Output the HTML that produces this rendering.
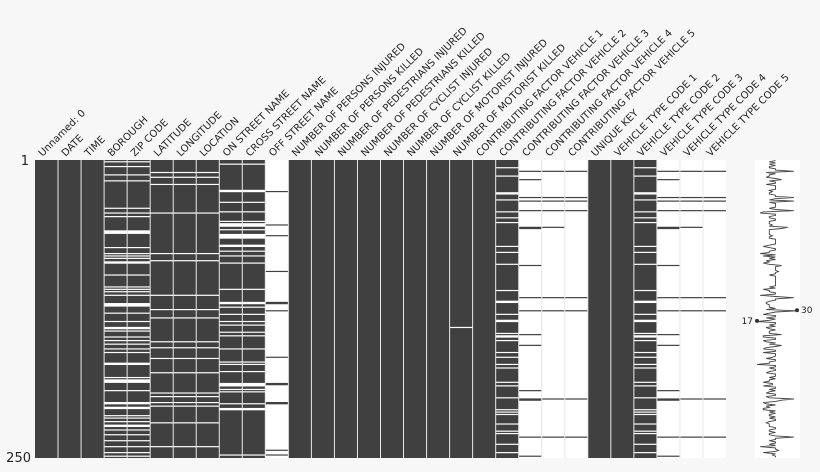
<!DOCTYPE html>
<html><head><meta charset="utf-8"><style>
html,body{margin:0;padding:0;background:#f7f7f7;}
svg{display:block;font-family:"DejaVu Sans","Liberation Sans",sans-serif;}
</style></head><body>
<svg id="s" width="820" height="472" viewBox="0 0 820 472" xmlns="http://www.w3.org/2000/svg">
<rect x="0" y="0" width="820" height="472" fill="#f7f7f7"/>
<rect x="35" y="160" width="691" height="298" fill="#ffffff"/>
<rect x="755" y="160" width="45" height="298" fill="#ffffff"/>
<g id="m"></g>
<g id="lab" font-size="10" fill="#222"></g>
<text x="29" y="165" font-size="13" text-anchor="end" fill="#222">1</text>
<text x="31" y="462" font-size="13" text-anchor="end" fill="#222">250</text>
<g id="sp"></g>
</svg>
<script>
var names=["Unnamed: 0","DATE","TIME","BOROUGH","ZIP CODE","LATITUDE","LONGITUDE","LOCATION","ON STREET NAME","CROSS STREET NAME","OFF STREET NAME","NUMBER OF PERSONS INJURED","NUMBER OF PERSONS KILLED","NUMBER OF PEDESTRIANS INJURED","NUMBER OF PEDESTRIANS KILLED","NUMBER OF CYCLIST INJURED","NUMBER OF CYCLIST KILLED","NUMBER OF MOTORIST INJURED","NUMBER OF MOTORIST KILLED","CONTRIBUTING FACTOR VEHICLE 1","CONTRIBUTING FACTOR VEHICLE 2","CONTRIBUTING FACTOR VEHICLE 3","CONTRIBUTING FACTOR VEHICLE 4","CONTRIBUTING FACTOR VEHICLE 5","UNIQUE KEY","VEHICLE TYPE CODE 1","VEHICLE TYPE CODE 2","VEHICLE TYPE CODE 3","VEHICLE TYPE CODE 4","VEHICLE TYPE CODE 5"];
var seed=12345;function r(){seed=(seed*1103515245+12345)%2147483648;return seed/2147483648;}
var N=250,C=30,x0=35,cw=691/30,y0=160,rh=298/N;
var present=[];for(var i=0;i<N;i++){present.push(new Array(C).fill(true));}
for(var i=0;i<N;i++){
 var p=present[i];
 var bz=r()<0.22; p[3]=p[4]=!bz;
 var ll=r()<0.07; p[5]=p[6]=p[7]=!ll;
 var oc=r()<0.14; p[8]=p[9]=!oc;
 p[10]=r()<0.02 || (oc && r()<0.25);
 if(i==140)p[18]=false;
 var v2=r()<0.85; p[20]=p[26]=v2;
 var v3=v2&&r()<0.1; p[21]=p[27]=v3;
 var v4=v3&&r()<0.5; p[22]=p[28]=v4;
 p[23]=p[29]=v4&&r()<0.6;
}
var m=document.getElementById("m"),h="";
for(var c=0;c<C;c++){
 var x=x0+c*cw,run=-1;
 for(var i=0;i<=N;i++){
  var on=i<N&&present[i][c];
  if(on&&run<0)run=i;
  if(!on&&run>=0){h+='<rect x="'+x.toFixed(2)+'" y="'+(y0+run*rh).toFixed(2)+'" width="'+cw.toFixed(2)+'" height="'+((i-run)*rh).toFixed(2)+'" fill="#404040"/>';run=-1;}
 }
}
for(var c=1;c<C;c++){var x=x0+c*cw;h+='<line x1="'+x.toFixed(2)+'" y1="160" x2="'+x.toFixed(2)+'" y2="458" stroke="#e8e8e8" stroke-width="1"/>';}
m.innerHTML=h;
var lh="";
for(var c=0;c<C;c++){var cx=x0+c*cw+cw/2-4;lh+='<text transform="translate('+cx.toFixed(1)+',157) rotate(-45)">'+names[c]+'</text>';}
document.getElementById("lab").innerHTML=lh;
var cnt=present.map(function(p){return p.filter(Boolean).length;});
var mn=Math.min.apply(null,cnt),mx=Math.max.apply(null,cnt);
var pts=cnt.map(function(v,i){return (757+(v-mn)/(mx-mn)*40).toFixed(1)+","+(y0+i*rh+rh/2).toFixed(1);}).join(" ");
var imn=cnt.indexOf(mn),imx=cnt.indexOf(mx);
var sp='<polyline points="'+pts+'" fill="none" stroke="#444" stroke-width="0.9"/>';
sp+='<circle cx="757" cy="'+(y0+imn*rh).toFixed(1)+'" r="2" fill="#333"/><text x="753" y="'+(y0+imn*rh+3).toFixed(1)+'" font-size="9" text-anchor="end" fill="#222">'+mn+'</text>';
sp+='<circle cx="797" cy="'+(y0+imx*rh).toFixed(1)+'" r="2" fill="#333"/><text x="801" y="'+(y0+imx*rh+3).toFixed(1)+'" font-size="9" fill="#222">'+mx+'</text>';
document.getElementById("sp").innerHTML=sp;
</script>
</body></html>
